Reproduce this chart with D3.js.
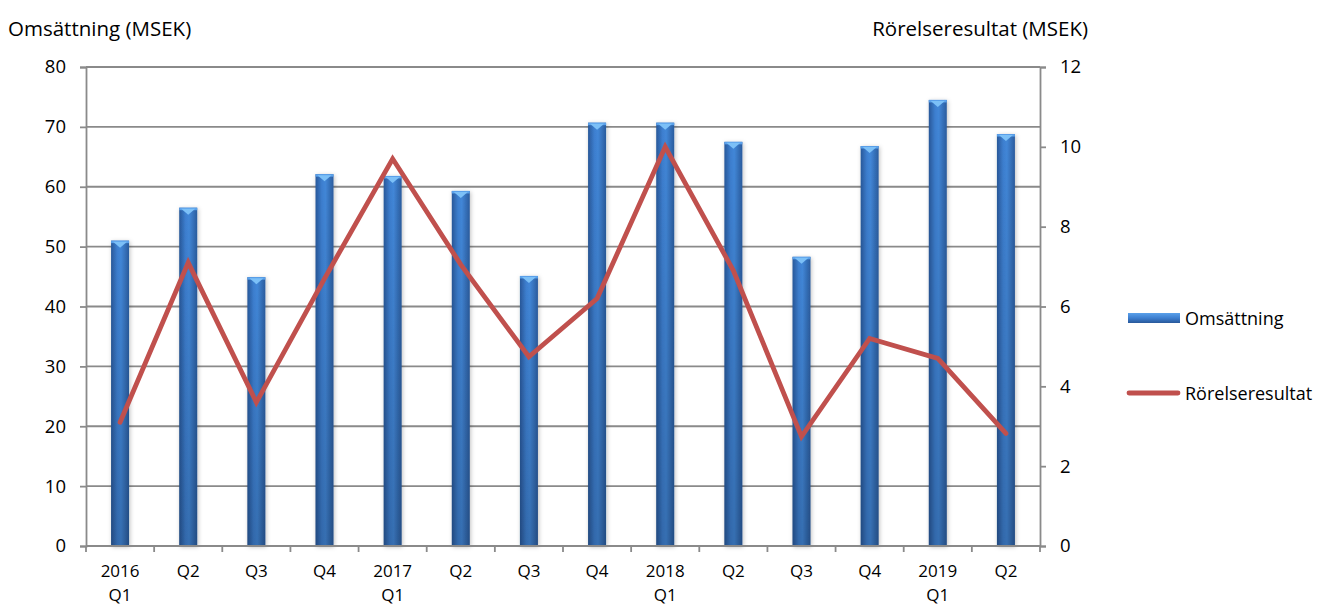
<!DOCTYPE html>
<html>
<head>
<meta charset="utf-8">
<script src="https://cdn.jsdelivr.net/npm/d3@7"></script>
<style>
  body { margin: 0; background: #fff; }
  text { font-family: "Open Sans", sans-serif; fill: #000; }
</style>
</head>
<body>
<svg id="chart" width="1318" height="607"></svg>
<script>
// Data
const years = ["2016", "", "", "", "2017", "", "", "", "2018", "", "", "", "2019", ""];
const quarters = ["Q1", "Q2", "Q3", "Q4", "Q1", "Q2", "Q3", "Q4", "Q1", "Q2", "Q3", "Q4", "Q1", "Q2"];
const omsattning = [51.0, 56.5, 44.9, 62.1, 61.8, 59.3, 45.1, 70.7, 70.7, 67.5, 48.3, 66.8, 74.5, 68.8];
const rorelseresultat = [3.1, 7.1, 3.6, 6.7, 9.7, 7.05, 4.74, 6.2, 10.0, 6.9, 2.74, 5.2, 4.7, 2.82];
const leftTicks = [0, 10, 20, 30, 40, 50, 60, 70, 80];
const rightTicks = [0, 2, 4, 6, 8, 10, 12];

const svg = d3.select("#chart");
const plotLeft = 86, plotRight = 1040, plotTop = 67, plotBottom = 546;
const idx = d3.range(omsattning.length);

const x = d3.scaleBand().domain(idx).range([plotLeft, plotRight]).paddingInner(0.736).paddingOuter(0.368);
const xCat = d3.scaleBand().domain(idx).range([plotLeft, plotRight]);
const yL = d3.scaleLinear().domain([0, 80]).range([plotBottom, plotTop]);
const yR = d3.scaleLinear().domain([0, 12]).range([plotBottom, plotTop]);

// Gradients / filters
const defs = svg.append("defs");
const g = defs.append("linearGradient").attr("id", "barGrad").attr("x1", "0").attr("x2", "1").attr("y1", "0").attr("y2", "0");
g.append("stop").attr("offset", "0%").attr("stop-color", "#28589a");
g.append("stop").attr("offset", "35%").attr("stop-color", "#3d7fd0");
g.append("stop").attr("offset", "55%").attr("stop-color", "#4287d8");
g.append("stop").attr("offset", "100%").attr("stop-color", "#2a5c9e");
const gv = defs.append("linearGradient").attr("id", "barShade").attr("x1", "0").attr("x2", "0").attr("y1", "0").attr("y2", "1");
gv.append("stop").attr("offset", "0%").attr("stop-color", "#000").attr("stop-opacity", 0);
gv.append("stop").attr("offset", "100%").attr("stop-color", "#000").attr("stop-opacity", 0.18);
const f = defs.append("filter").attr("id", "shadow").attr("x", "-50%").attr("y", "-10%").attr("width", "200%").attr("height", "120%");
f.append("feDropShadow").attr("dx", 1).attr("dy", 1).attr("stdDeviation", 2).attr("flood-color", "#000").attr("flood-opacity", 0.25);
const lgv = defs.append("linearGradient").attr("id", "legGrad").attr("x1", "0").attr("x2", "0").attr("y1", "0").attr("y2", "1");
lgv.append("stop").attr("offset", "0%").attr("stop-color", "#5aa0ea");
lgv.append("stop").attr("offset", "50%").attr("stop-color", "#3d7fd0");
lgv.append("stop").attr("offset", "100%").attr("stop-color", "#28589a");

// Gridlines
svg.append("g").selectAll("line").data(leftTicks.slice(1)).join("line")
  .attr("x1", plotLeft).attr("x2", plotRight)
  .attr("y1", d => yL(d)).attr("y2", d => yL(d))
  .attr("stroke", "#8a8a8a").attr("stroke-width", 1.8);

// Left axis
const axL = svg.append("g").attr("transform", `translate(${plotLeft},0)`)
  .call(d3.axisLeft(yL).tickValues(leftTicks).tickSize(6).tickPadding(14));
// Right axis
const axR = svg.append("g").attr("transform", `translate(${plotRight},0)`)
  .call(d3.axisRight(yR).tickValues(rightTicks).tickSize(6).tickPadding(14));
[axL, axR].forEach(a => {
  a.select(".domain").attr("stroke", "#8a8a8a").attr("stroke-width", 1.8);
  a.selectAll(".tick line").attr("stroke", "#8a8a8a").attr("stroke-width", 1.8);
  a.selectAll(".tick text").attr("font-size", 18.5).attr("font-family", "'Open Sans', sans-serif").attr("fill", "#000");
});

// Bars
const bars = svg.append("g").selectAll("g").data(idx).join("g");
bars.append("rect")
  .attr("x", d => x(d)).attr("y", d => yL(omsattning[d]))
  .attr("width", x.bandwidth()).attr("height", d => plotBottom - yL(omsattning[d]))
  .attr("fill", "url(#barGrad)").attr("filter", "url(#shadow)");
bars.append("rect")
  .attr("x", d => x(d)).attr("y", d => yL(omsattning[d]))
  .attr("width", x.bandwidth()).attr("height", d => plotBottom - yL(omsattning[d]))
  .attr("fill", "url(#barShade)");
bars.append("rect")
  .attr("x", d => x(d)).attr("y", d => yL(omsattning[d]))
  .attr("width", x.bandwidth()).attr("height", 2.5)
  .attr("fill", "#5aa0ea");
bars.append("path")
  .attr("d", d => {
    const x0 = x(d), w = x.bandwidth(), y0 = yL(omsattning[d]);
    return `M${x0 + 2},${y0 + 1}L${x0 + w - 2},${y0 + 1}L${x0 + w / 2},${y0 + 7}Z`;
  })
  .attr("fill", "#7cc0f7");

// X axis baseline and ticks
svg.append("line").attr("x1", plotLeft).attr("x2", plotRight).attr("y1", plotBottom).attr("y2", plotBottom)
  .attr("stroke", "#8a8a8a").attr("stroke-width", 1.8);
svg.append("g").selectAll("line").data(d3.range(omsattning.length + 1)).join("line")
  .attr("x1", d => plotLeft + d * xCat.step()).attr("x2", d => plotLeft + d * xCat.step())
  .attr("y1", plotBottom).attr("y2", plotBottom + 6)
  .attr("stroke", "#8a8a8a").attr("stroke-width", 1.8);

// X labels
const xl = svg.append("g").selectAll("g").data(idx).join("g")
  .attr("transform", d => `translate(${xCat(d) + xCat.bandwidth() / 2},0)`);
xl.append("text").attr("y", 577).attr("text-anchor", "middle").attr("font-size", 17)
  .text(d => years[d] ? years[d] : quarters[d]);
xl.append("text").attr("y", 601).attr("text-anchor", "middle").attr("font-size", 17)
  .text(d => years[d] ? quarters[d] : "");

// Line
const line = d3.line().x(d => xCat(d) + xCat.bandwidth() / 2).y(d => yR(rorelseresultat[d]));
svg.append("path").datum(idx).attr("d", line)
  .attr("fill", "none").attr("stroke", "#c0504d").attr("stroke-width", 4.8)
  .attr("stroke-linejoin", "miter").attr("stroke-linecap", "round");

// Axis titles
svg.append("text").attr("x", 8).attr("y", 36).attr("font-size", 20.5).text("Omsättning (MSEK)");
svg.append("text").attr("x", 1088).attr("y", 36).attr("text-anchor", "end").attr("font-size", 20.5).text("Rörelseresultat (MSEK)");

// Legend
const lg = svg.append("g");
lg.append("rect").attr("x", 1128).attr("y", 313).attr("width", 52).attr("height", 10)
  .attr("fill", "url(#legGrad)");
lg.append("text").attr("x", 1185).attr("y", 325).attr("font-size", 18).text("Omsättning");
lg.append("line").attr("x1", 1129).attr("x2", 1178).attr("y1", 393).attr("y2", 393)
  .attr("stroke", "#c0504d").attr("stroke-width", 4.8).attr("stroke-linecap", "round");
lg.append("text").attr("x", 1185).attr("y", 400).attr("font-size", 18).text("Rörelseresultat");
</script>
</body>
</html>
